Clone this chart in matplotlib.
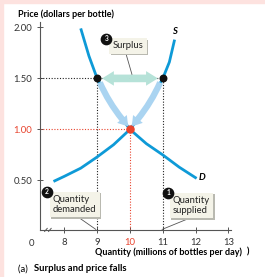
import numpy as np
import matplotlib.pyplot as plt
import matplotlib.patheffects as pe
from matplotlib.patches import Rectangle

plt.rcParams['font.family'] = ['Liberation Sans Narrow', 'Lato', 'DejaVu Sans']

# values
supply_q = [7.67, 8.0, 8.5, 9.0, 9.5, 10.0, 10.5, 11.0, 11.2, 11.36]
supply_p = [0.49, 0.54, 0.62, 0.73, 0.85, 1.00, 1.21, 1.50, 1.66, 1.88]
demand_q = [8.5, 8.75, 9.0, 9.5, 10.0, 10.5, 11.0, 11.5, 12.03]
demand_p = [1.99, 1.72, 1.50, 1.22, 1.00, 0.86, 0.75, 0.63, 0.52]
eq_q, eq_p = 10, 1.00
surplus_price = 1.50
q_demanded, q_supplied = 9, 11
x_ticks = [8, 9, 10, 11, 12, 13]
x_labels = ['8', '9', '10', '11', '12', '13']
y_ticks = [0.5, 1.0, 1.5, 2.0]
y_labels = ['0.50', '1.00', '1.50', '2.00']

blue = '#0e9ad7'
band = '#aad4f1'
teal = '#b6e2d8'
red = '#e8432d'
grey = '#555555'

fig = plt.figure(figsize=(2.65, 2.77), dpi=100)
fig.patches.append(Rectangle((0, 0.989), 1, 0.011, transform=fig.transFigure, color='#fde2df', zorder=0))
fig.patches.append(Rectangle((0, 0), 0.011, 1, transform=fig.transFigure, color='#fde2df', zorder=0))
ax = fig.add_axes([0.151, 0.170, 0.721, 0.751])
ax.set_xlim(7.26, 13.08)
ax.set_ylim(0.015, 2.054)
for s in ['top', 'right']:
    ax.spines[s].set_visible(False)
for s in ['left', 'bottom']:
    ax.spines[s].set_color(grey)
    ax.spines[s].set_linewidth(0.8)

ax.set_xticks(x_ticks)
ax.set_xticklabels(x_labels)
ax.set_yticks(y_ticks)
ax.set_yticklabels(y_labels)
ax.tick_params(direction='inout', length=5, width=0.7, color=grey, labelsize=6.8,
               labelcolor='#333333', pad=3)
ax.get_yticklabels()[1].set_color(red)
ax.get_xticklabels()[2].set_color(red)

# origin label and axis break
ax.annotate('0', xy=(7.01, 0), xycoords=('data', 'axes fraction'), xytext=(0, -9.5),
            textcoords='offset points', ha='center', va='center', fontsize=6.8, color='#333333',
            annotation_clip=False)
for bx in [7.44, 7.56]:
    ax.plot([bx - 0.04, bx + 0.04], [0.0, 0.03], color=grey, lw=0.7, clip_on=False)

# dotted guide lines
dot = (0, (1, 1.5))
ax.plot([7.26, q_supplied], [surplus_price, surplus_price], color='#222222', lw=0.8, ls=dot)
ax.plot([q_demanded, q_demanded], [0.015, surplus_price], color='#222222', lw=0.8, ls=dot)
ax.plot([q_supplied, q_supplied], [0.015, surplus_price], color='#222222', lw=0.8, ls=dot)
ax.plot([7.26, eq_q], [eq_p, eq_p], color=red, lw=0.8, ls=dot)
ax.plot([eq_q, eq_q], [0.015, eq_p], color=red, lw=0.8, ls=dot)

# arrows showing price falls along the curves
fall = 'simple,head_width=0.9,head_length=0.7,tail_width=0.45'
ax.annotate('', xy=(9.95, 1.03), xytext=(9.08, 1.46),
            arrowprops=dict(arrowstyle=fall, connectionstyle='arc3,rad=0.08', fc=band, ec='none',
                            shrinkA=0, shrinkB=0))
ax.annotate('', xy=(10.05, 1.03), xytext=(10.92, 1.46),
            arrowprops=dict(arrowstyle=fall, connectionstyle='arc3,rad=-0.08', fc=band, ec='none',
                            shrinkA=0, shrinkB=0))

# surplus arrow
for end in [9.15, 10.85]:
    ax.annotate('', xy=(end, surplus_price), xytext=(eq_q, surplus_price),
                arrowprops=dict(arrowstyle='simple,head_width=1.05,head_length=0.85,tail_width=0.55',
                                fc=teal, ec='none', shrinkA=0, shrinkB=0))

ax.plot(supply_q, supply_p, color=blue, lw=2.0, solid_capstyle='butt')
ax.plot(demand_q, demand_p, color=blue, lw=2.0, solid_capstyle='butt')
ax.text(11.37, 1.955, 'S', fontsize=6.8, fontweight='bold', style='italic', ha='center', va='center')
ax.text(12.2, 0.525, 'D', fontsize=6.8, fontweight='bold', style='italic', ha='center', va='center')

ax.scatter([q_demanded, q_supplied], [surplus_price, surplus_price], s=22, color='#111111', zorder=5)
ax.scatter([eq_q], [eq_p], s=26, color=red, zorder=5)

# callout boxes
def callout(x, y, txt, num, nx, ny, line):
    ax.plot(line[0], line[1], color=grey, lw=0.6, clip_on=False, zorder=6)
    t = ax.text(x, y, txt, fontsize=6.8, color='#222222', ha='left', va='center', linespacing=1.1,
                bbox=dict(boxstyle='square,pad=0.35', lw=0, fc='#f4f3e8'), zorder=8)
    t.get_bbox_patch().set_path_effects([
        pe.SimplePatchShadow(offset=(1.2, -1.2), shadow_rgbFace='#b9b9b0', alpha=1), pe.Normal()])
    ax.scatter([nx], [ny], s=55, color='#111111', zorder=9, clip_on=False)
    ax.text(nx, ny, num, fontsize=4.8, color='white', fontweight='bold', ha='center', va='center',
            zorder=10)

callout(9.47, 1.82, 'Surplus', '3', 9.28, 1.89, ([9.88, 10.06], [1.74, 1.54]))
callout(7.65, 0.265, 'Quantity\ndemanded', '2', 7.47, 0.39, ([8.38, 8.96], [0.15, 0.02]))
callout(11.31, 0.255, 'Quantity\nsupplied', '1', 11.16, 0.38, ([11.89, 10.98], [0.14, 0.02]))

fig.text(0.068, 0.95, 'Price (dollars per bottle)', fontsize=6.5, fontweight='bold', va='center')
fig.text(0.36, 0.09, 'Quantity (millions of bottles per day)', fontsize=6.5, fontweight='bold',
         va='center')
fig.text(0.93, 0.09, ')', fontsize=6.5, fontweight='bold', va='center')
fig.text(0.068, 0.03, '(a)  ', fontsize=6.8, va='center')
fig.text(0.128, 0.03, 'Surplus and price falls', fontsize=6.8, fontweight='bold', va='center')

fig.savefig('out.png', dpi=100, facecolor='white')
